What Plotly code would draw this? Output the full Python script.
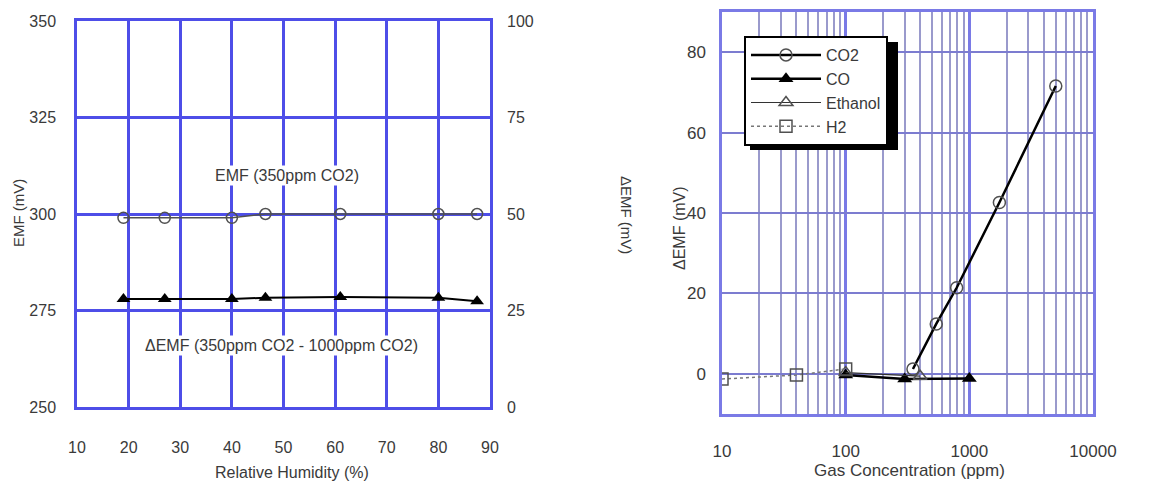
import plotly.graph_objects as go

W, H = 1176, 485

# ---- Left chart data ----
rh = [19, 27, 40, 46.5, 61, 80, 87.5]
emf_350 = [299, 299, 299, 300, 300, 300, 300]
demf_rh = [28, 28, 28, 28.3, 28.5, 28.3, 27.4]

# ---- Right chart data ----
co2_x = [350, 540, 790, 1750, 5000]
co2_y = [1.2, 12.4, 21.4, 42.6, 71.6]
co_x = [100, 300, 1000]
co_y = [-0.3, -1.3, -1.2]
eth_x = [100, 400]
eth_y = [0.3, -0.6]
h2_x = [10, 40, 100]
h2_y = [-1.3, -0.3, 1.2]

left_x_ticks = [10, 20, 30, 40, 50, 60, 70, 80, 90]
left_y_ticks = [250, 275, 300, 325, 350]
right_y2_ticks = [0, 25, 50, 75, 100]
conc_ticks = [10, 100, 1000, 10000]
conc_y_ticks = [0, 20, 40, 60, 80]

def px(x):
    return x / W

def py(y):
    return 1 - y / H

SANS = "Liberation Sans, Arial"
TXT = "#3a3a3a"
BLUE = "#4e4ee8"
MAJ2 = "#7a7ae6"
HOR2 = "#7c7cd0"
MINOR = "#9a9acc"

fig = go.Figure()

fig.add_trace(go.Scatter(
    x=rh, y=emf_350, xaxis="x", yaxis="y", mode="lines+markers",
    line=dict(color="#505050", width=1.5),
    marker=dict(symbol="circle-open", size=11, color="#505050", line=dict(width=1.5)),
    showlegend=False))
fig.add_trace(go.Scatter(
    x=rh, y=demf_rh, xaxis="x", yaxis="y2", mode="lines+markers",
    line=dict(color="black", width=2),
    marker=dict(symbol="triangle-up", size=12, color="black"),
    showlegend=False))

fig.add_trace(go.Scatter(
    x=co2_x, y=co2_y, xaxis="x2", yaxis="y3", mode="lines+markers", name="CO2",
    line=dict(color="black", width=2.5),
    marker=dict(symbol="circle-open", size=12, color="#505050", line=dict(width=1.5))))
fig.add_trace(go.Scatter(
    x=co_x, y=co_y, xaxis="x2", yaxis="y3", mode="lines+markers", name="CO",
    line=dict(color="black", width=2.5),
    marker=dict(symbol="triangle-up", size=13, color="black")))
fig.add_trace(go.Scatter(
    x=eth_x, y=eth_y, xaxis="x2", yaxis="y3", mode="lines+markers", name="Ethanol",
    line=dict(color="#333333", width=1.2),
    marker=dict(symbol="triangle-up-open", size=12, color="#505050", line=dict(width=1.5))))
fig.add_trace(go.Scatter(
    x=h2_x, y=h2_y, xaxis="x2", yaxis="y3", mode="lines+markers", name="H2",
    line=dict(color="#777777", width=1.5, dash="dot"),
    marker=dict(symbol="square-open", size=12, color="#505050", line=dict(width=1.5))))

axis_common = dict(showline=True, mirror=True, ticks="",
                   zeroline=False, automargin=False)

def ann(x, y, text, angle=0, size=16, **kw):
    return dict(x=px(x), y=py(y), xref="paper", yref="paper", text=text,
                textangle=angle, showarrow=False, xanchor="center", yanchor="middle",
                font=dict(size=size), **kw)

layout = dict(
    template="none",
    width=W, height=H,
    margin=dict(l=0, r=0, t=0, b=0, autoexpand=False),
    paper_bgcolor="white", plot_bgcolor="white",
    font=dict(family=SANS, size=16, color=TXT),
    xaxis=dict(domain=[px(77), px(490)], range=[10, 90], tickvals=left_x_ticks,
               showgrid=True, gridcolor=BLUE, gridwidth=2.5, linecolor=BLUE, linewidth=2.5,
               anchor="y", ticklabelstandoff=24, **axis_common),
    yaxis=dict(domain=[py(407), py(21)], range=[250, 350], tickvals=left_y_ticks,
               showgrid=True, gridcolor=BLUE, gridwidth=2.5, linecolor=BLUE, linewidth=2.5,
               anchor="x", ticklabelstandoff=15, **axis_common),
    yaxis2=dict(range=[0, 100], tickvals=right_y2_ticks, overlaying="y", side="right",
                anchor="x", showgrid=False, showline=False, ticks="", zeroline=False,
                automargin=False, ticklabelstandoff=16),
    xaxis2=dict(domain=[px(722), px(1093)], type="log", range=[1, 4], tickvals=conc_ticks,
                ticktext=[str(v) for v in conc_ticks],
                showgrid=True, gridcolor=MAJ2, gridwidth=2.5, linecolor=MAJ2, linewidth=2.5,
                anchor="y3", ticklabelstandoff=20,
                tickfont=dict(family=SANS, size=17),
                minor=dict(showgrid=True, gridcolor=MINOR, gridwidth=2, dtick="D1"),
                **axis_common),
    yaxis3=dict(domain=[py(414), py(12)], range=[-10, 90], tickvals=conc_y_ticks,
                showgrid=True, gridcolor=HOR2, gridwidth=2, linecolor=MAJ2, linewidth=2.5,
                anchor="x2", ticklabelstandoff=10,
                tickfont=dict(family=SANS, size=17),
                **axis_common),
    legend=dict(x=px(744), y=py(36), xanchor="left", yanchor="top",
                bgcolor="white", bordercolor="black", borderwidth=2,
                font=dict(family=SANS, size=16, color=TXT),
                itemwidth=70, tracegroupgap=0),
    annotations=[
        dict(x=50.7, y=310, xref="x", yref="y", text="EMF (350ppm CO2)", showarrow=False,
             bgcolor="white", font=dict(size=16)),
        dict(x=49.7, y=266, xref="x", yref="y", text="ΔEMF (350ppm CO2 - 1000ppm CO2)",
             showarrow=False, bgcolor="white", font=dict(size=16)),
        ann(18, 213, "EMF (mV)", -90, 15),
        ann(292, 472, "Relative Humidity (%)", 0, 16),
        ann(627, 215, "ΔEMF (mV)", 90, 15),
        ann(679, 228, "ΔEMF (mV)", -90, 16),
        ann(909, 470, "Gas Concentration (ppm)", 0, 17),
    ],
    shapes=[
        dict(type="rect", xref="paper", yref="paper", x0=px(750), x1=px(898),
             y0=py(150), y1=py(42), fillcolor="black", line=dict(width=0), layer="above"),
    ],
)
fig.update_layout(**layout)
fig.write_html("out.html")
